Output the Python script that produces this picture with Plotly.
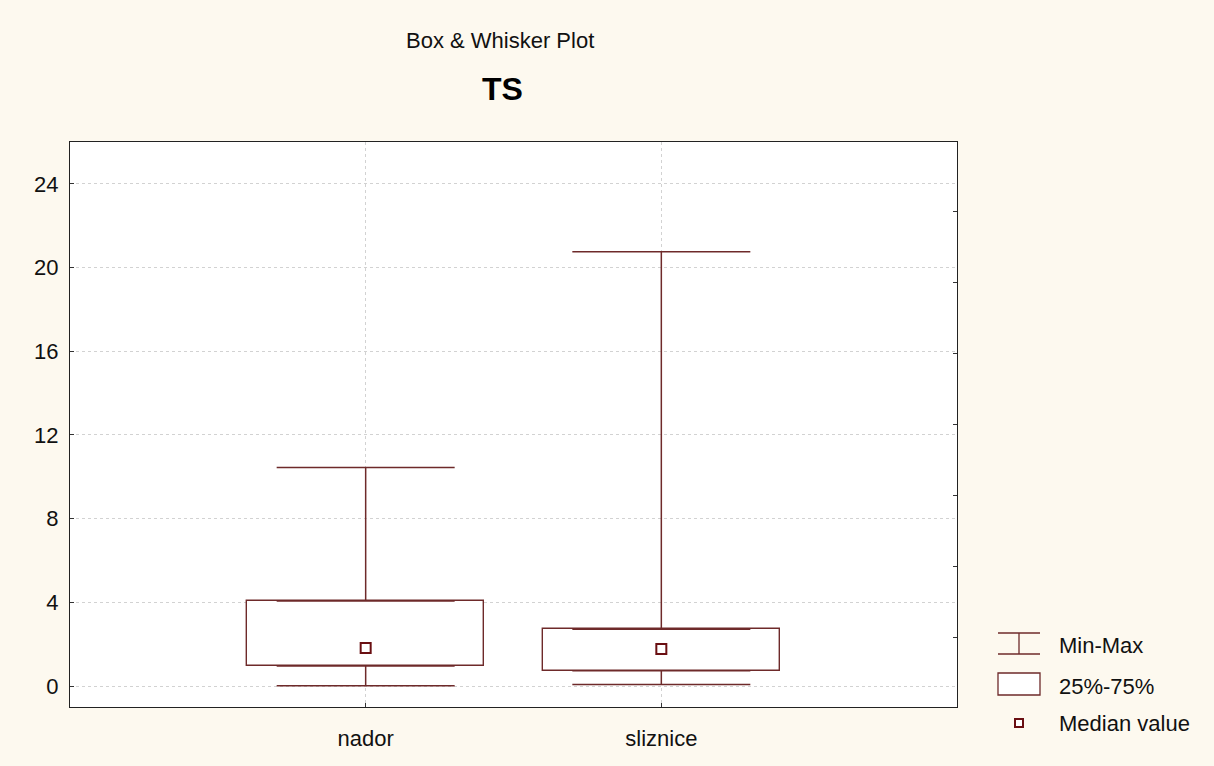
import plotly.graph_objects as go

# ---- data ----
categories = ["nador", "sliznice"]
minimum = [0.02, 0.08]
q1 = [0.96, 0.73]
median = [1.82, 1.77]
q3 = [4.06, 2.72]
maximum = [10.45, 20.75]

y_ticks = [0, 4, 8, 12, 16, 20, 24]
legend_labels = ["Min-Max", "25%-75%", "Median value"]

LINE = "#6e2a2a"
MED = "#6a0f12"
BG = "#fdf9ef"
FONT = "Liberation Sans, Arial, sans-serif"

W, H = 1214, 766
L, R, T, B = 70, 957, 142, 707


def px(x):
    return (x - L) / (R - L)


def py(y):
    return (B - y) / (B - T)


fig = go.Figure()

# boxes (25%-75%)
fig.add_trace(go.Bar(
    x=categories,
    y=[b - a for a, b in zip(q1, q3)],
    base=q1,
    width=0.8,
    marker=dict(color="white", line=dict(color=LINE, width=1.4)),
    showlegend=False, hoverinfo="skip",
))

# upper whiskers
fig.add_trace(go.Scatter(
    x=categories, y=q3, mode="markers",
    marker=dict(size=1, opacity=0),
    error_y=dict(type="data", symmetric=False,
                 array=[m - q for m, q in zip(maximum, q3)],
                 arrayminus=[0, 0], color=LINE, thickness=1.5, width=89),
    showlegend=False, hoverinfo="skip",
))
# lower whiskers
fig.add_trace(go.Scatter(
    x=categories, y=q1, mode="markers",
    marker=dict(size=1, opacity=0),
    error_y=dict(type="data", symmetric=False,
                 array=[0, 0],
                 arrayminus=[q - m for q, m in zip(q1, minimum)],
                 color=LINE, thickness=1.5, width=89),
    showlegend=False, hoverinfo="skip",
))
# medians
fig.add_trace(go.Scatter(
    x=categories, y=median, mode="markers",
    marker=dict(symbol="square", size=10, color="white",
                line=dict(color=MED, width=2)),
    showlegend=False, hoverinfo="skip",
))
# invisible trace on secondary axis
fig.add_trace(go.Scatter(x=[categories[0]], y=[0], yaxis="y2", mode="markers",
                         marker=dict(opacity=0), showlegend=False, hoverinfo="skip"))

shapes = []
# legend symbols
shapes.append(dict(type="line", xref="paper", yref="paper", x0=px(998), x1=px(1040), y0=py(633), y1=py(633), line=dict(color=LINE, width=1.3)))
shapes.append(dict(type="line", xref="paper", yref="paper", x0=px(998), x1=px(1040), y0=py(654), y1=py(654), line=dict(color=LINE, width=1.3)))
shapes.append(dict(type="line", xref="paper", yref="paper", x0=px(1019), x1=px(1019), y0=py(633), y1=py(654), line=dict(color=LINE, width=1.3)))
shapes.append(dict(type="rect", xref="paper", yref="paper", x0=px(998), x1=px(1040), y0=py(673), y1=py(695), fillcolor="white", line=dict(color=LINE, width=1.3)))
shapes.append(dict(type="rect", xref="paper", yref="paper", x0=px(1015), x1=px(1023), y0=py(719), y1=py(727), fillcolor="white", line=dict(color=MED, width=2)))

annotations = []
for label, yy in zip(legend_labels, [645, 686, 723]):
    annotations.append(dict(text=label, xref="paper", yref="paper", x=px(1057), y=py(yy),
                            xanchor="left", yanchor="middle", showarrow=False,
                            font=dict(family=FONT, size=22, color="#111")))
annotations.append(dict(text="Box & Whisker Plot", xref="paper", yref="paper", x=px(500), y=py(40),
                        xanchor="center", yanchor="middle", showarrow=False,
                        font=dict(family=FONT, size=22, color="#111")))
annotations.append(dict(text="<b>TS</b>", xref="paper", yref="paper", x=px(502), y=py(89),
                        xanchor="center", yanchor="middle", showarrow=False,
                        font=dict(family=FONT, size=32, color="#000")))

fig.update_layout(
    width=W, height=H,
    margin=dict(l=L, r=W - R, t=T, b=H - B, pad=0),
    paper_bgcolor=BG, plot_bgcolor="white",
    font=dict(family=FONT, size=22, color="#111"),
    shapes=shapes, annotations=annotations,
    showlegend=False,
    xaxis=dict(range=[-1, 2], showgrid=True, gridcolor="#d2d2d2", griddash="dot", gridwidth=1,
               showline=True, mirror=True, linecolor="#222", linewidth=1,
               ticks="inside", ticklen=4, tickcolor="#333",
               tickfont=dict(size=22), ticklabelstandoff=12, zeroline=False),
    yaxis=dict(range=[-1, 26], tickvals=y_ticks, showgrid=True, gridcolor="#d2d2d2", griddash="dot",
               gridwidth=1, showline=True, mirror=True, linecolor="#222", linewidth=1,
               ticks="inside", ticklen=4, tickcolor="#333",
               tickfont=dict(size=22), ticklabelstandoff=6, zeroline=False),
    yaxis2=dict(range=[-1, 26], overlaying="y", side="right", tick0=2.34, dtick=3.39,
                ticks="inside", ticklen=4, tickcolor="#333", showticklabels=False,
                showgrid=False, zeroline=False, showline=False),
    bargap=0,
)

fig.write_html("out.html")
